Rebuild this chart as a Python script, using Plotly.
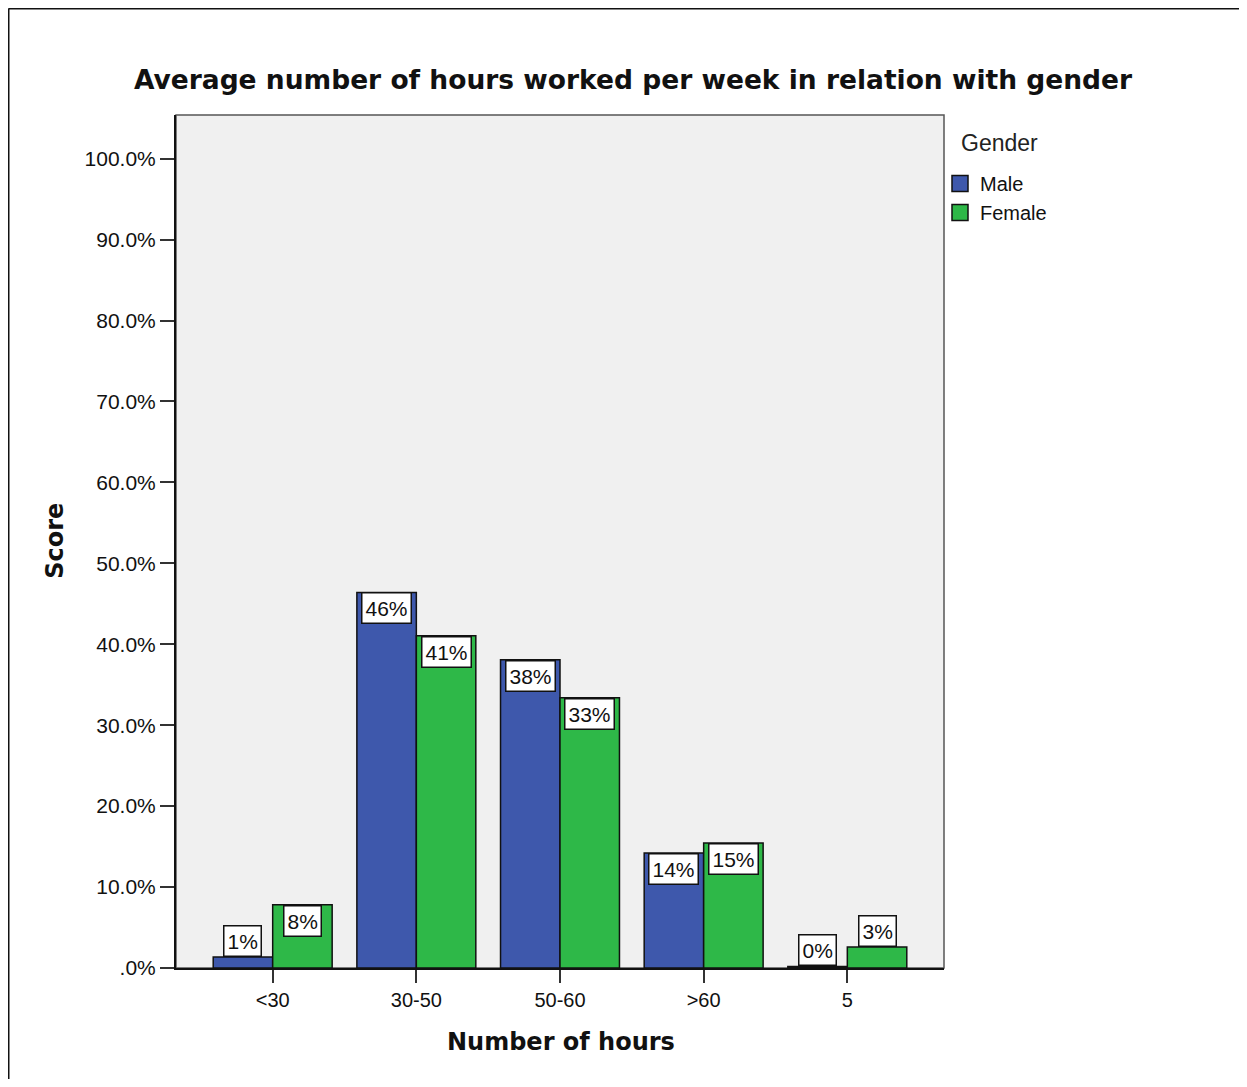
import plotly.graph_objects as go

categories = ["<30", "30-50", "50-60", ">60", "5"]
male = [1.36, 46.4, 38.1, 14.2, 0.2]
female = [7.82, 41.06, 33.4, 15.45, 2.6]
ytick_vals = [0, 10, 20, 30, 40, 50, 60, 70, 80, 90, 100]
ytick_text = [".0%", "10.0%", "20.0%", "30.0%", "40.0%", "50.0%", "60.0%", "70.0%", "80.0%", "90.0%", "100.0%"]

# page offset caused by the default body margin
OFF = 8
W, H = 1231, 1071
# plot area in page pixels
L, R, T, B = 176, 944, 115, 968.3

def px(x):
    return (x - L) / (R - L)

def py(y):
    return (B - y) / (B - T)

MALE_C = "#3E58AC"
FEMALE_C = "#2EB848"
FONT = "Liberation Sans, Arial, sans-serif"
BOLD = "DejaVu Sans, Verdana, sans-serif"

fig = go.Figure()
fig.add_trace(go.Bar(x=categories, y=male, name="Male", showlegend=False,
                     marker=dict(color=MALE_C, line=dict(color="#111111", width=1.5))))
fig.add_trace(go.Bar(x=categories, y=female, name="Female", showlegend=False,
                     marker=dict(color=FEMALE_C, line=dict(color="#111111", width=1.5))))
# legend entries with large square swatches
for nm, col in (("Male", MALE_C), ("Female", FEMALE_C)):
    fig.add_trace(go.Scatter(x=[None], y=[None], mode="markers", name=nm,
                             marker=dict(symbol="square", size=19, color=col,
                                         line=dict(color="#111111", width=1.5))))

annotations = []
off = 0.207
for i in range(len(categories)):
    for vals, d in ((male, -off), (female, off)):
        v = vals[i]
        inside = v > 5
        annotations.append(dict(
            x=i + d, y=v, xref="x", yref="y",
            text=f"{round(v):.0f}%", showarrow=False,
            yanchor="top" if inside else "bottom", xanchor="center",
            bgcolor="white", bordercolor="#111111", borderwidth=1.5, borderpad=3,
            font=dict(family=FONT, size=21, color="#111111")))

annotations.append(dict(text="<b>Number of hours</b>", x=px(561), y=py(1042), xref="paper", yref="paper",
                        showarrow=False, xanchor="center", yanchor="middle",
                        font=dict(family=BOLD, size=24, color="#111111")))
annotations.append(dict(text="<b>Score</b>", x=px(55), y=py(541), xref="paper", yref="paper",
                        showarrow=False, xanchor="center", yanchor="middle", textangle=-90,
                        font=dict(family=BOLD, size=24, color="#111111")))
annotations.append(dict(text="Gender", x=px(959), y=py(143), xref="paper", yref="paper",
                        showarrow=False, xanchor="left", yanchor="middle",
                        font=dict(family=FONT, size=23, color="#222222")))

shapes = [
    dict(type="rect", xref="paper", yref="paper", x0=0, y0=0, x1=1, y1=1,
         line=dict(color="#555555", width=1.5), layer="below"),
    dict(type="line", xref="paper", yref="paper", x0=px(8.5), y0=py(8.5), x1=px(1300), y1=py(8.5),
         line=dict(color="#111111", width=2)),
    dict(type="line", xref="paper", yref="paper", x0=px(8.5), y0=py(8.5), x1=px(8.5), y1=py(1150),
         line=dict(color="#111111", width=2)),
]

fig.update_layout(
    width=W, height=H,
    margin=dict(l=L - OFF, r=W - (R - OFF), t=T - OFF, b=H - (B - OFF), autoexpand=False),
    paper_bgcolor="white", plot_bgcolor="#F0F0F0",
    barmode="group", bargap=0.172, bargroupgap=0,
    title=dict(text="<b>Average number of hours worked per week in relation with gender</b>",
               x=(633 - OFF) / W, xref="container", xanchor="center",
               y=1 - (80 - OFF) / H, yref="container", yanchor="middle",
               font=dict(family=BOLD, size=26.5, color="#111111")),
    legend=dict(x=px(940), y=py(164), xanchor="left", yanchor="top",
                font=dict(family=FONT, size=20, color="#111111"),
                bgcolor="rgba(0,0,0,0)", itemwidth=30, tracegroupgap=0),
    xaxis=dict(range=[-0.673, 4.673], showgrid=False, showline=True, linecolor="#111111", linewidth=2,
               ticks="outside", ticklen=13, tickcolor="#333333", tickwidth=2,
               tickfont=dict(family=FONT, size=20, color="#111111"), fixedrange=True),
    yaxis=dict(range=[0, 105.4], tickvals=ytick_vals, ticktext=ytick_text, showgrid=False, zeroline=False,
               showline=True, linecolor="#111111", linewidth=2,
               ticks="outside", ticklen=14, tickcolor="#333333", tickwidth=2,
               tickfont=dict(family=FONT, size=21, color="#111111"), fixedrange=True),
    annotations=annotations, shapes=shapes, showlegend=True,
)

fig.write_html("out.html")
